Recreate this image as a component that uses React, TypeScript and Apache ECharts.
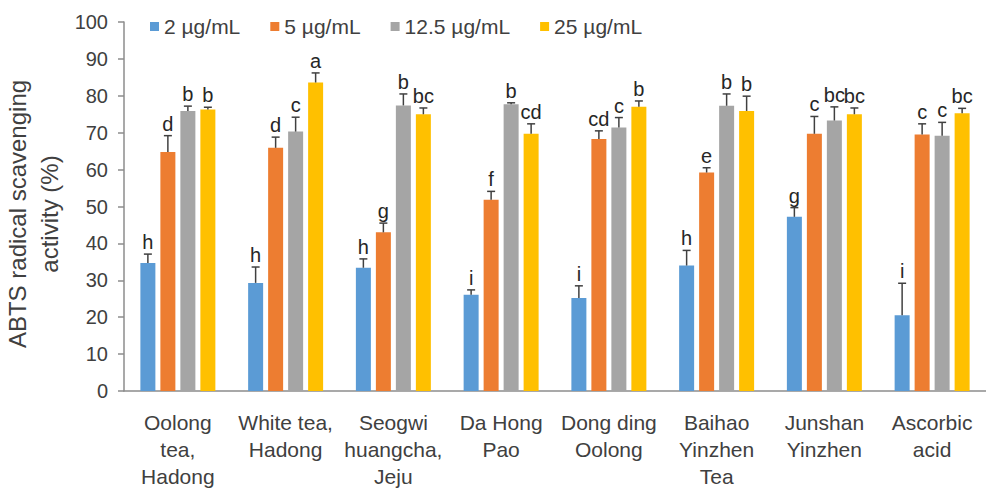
import React, { useEffect, useRef } from "react";
import * as echarts from "echarts";

const categories = [
  "Oolong\ntea,\nHadong",
  "White tea,\nHadong",
  "Seogwi\nhuangcha,\nJeju",
  "Da Hong\nPao",
  "Dong ding\nOolong",
  "Baihao\nYinzhen\nTea",
  "Junshan\nYinzhen",
  "Ascorbic\nacid",
];
const seriesNames = ["2 µg/mL", "5 µg/mL", "12.5 µg/mL", "25 µg/mL"];
const colors = ["#5B9BD5", "#ED7D31", "#A5A5A5", "#FFC000"];

const v2 = [34.7, 29.3, 33.4, 26.1, 25.2, 34.0, 47.2, 20.5];
const v5 = [64.8, 65.9, 43.0, 51.8, 68.3, 59.2, 69.7, 69.5];
const v12 = [75.9, 70.3, 77.4, 77.7, 71.4, 77.3, 73.3, 69.2];
const v25 = [76.3, 83.6, 75.0, 69.7, 77.0, 75.9, 75.0, 75.3];

const e2 = [2.4, 4.3, 2.4, 1.3, 3.3, 4.1, 2.5, 8.7];
const e5 = [4.4, 2.9, 2.5, 2.3, 2.2, 1.3, 4.7, 2.9];
const e12 = [1.3, 3.9, 3.1, 0.4, 2.7, 3.2, 3.7, 3.6];
const e25 = [0.6, 2.6, 1.7, 2.7, 1.6, 4.0, 1.7, 1.3];

const l2 = ["h", "h", "h", "i", "i", "h", "g", "i"];
const l5 = ["d", "d", "g", "f", "cd", "e", "c", "c"];
const l12 = ["b", "c", "b", "b", "c", "b", "bc", "c"];
const l25 = ["b", "a", "bc", "cd", "b", "b", "bc", "bc"];

const yTicks = { min: 0, max: 100, interval: 10 };

const values = [v2, v5, v12, v25];
const errors = [e2, e5, e12, e25];
const letters = [l2, l5, l12, l25];

const FONT = "'Liberation Sans', Arial, sans-serif";
const BAR_W = 15;
const BAR_STEP = 20;

export default function App() {
  const ref = useRef<HTMLDivElement>(null);
  useEffect(() => {
    if (!ref.current) return;
    const chart = echarts.init(ref.current, null, { renderer: "svg" });

    const barSeries = values.map((vals, i) => ({
      name: seriesNames[i],
      type: "bar",
      data: vals,
      barWidth: BAR_W,
      barGap: "33.3%",
      itemStyle: { color: colors[i] },
      z: 2,
    }));

    const errSeries = values.map((vals, i) => ({
      name: seriesNames[i] + " err",
      type: "custom",
      data: vals.map((v, k) => [k, v, errors[i][k]]),
      encode: { x: 0, y: 1 },
      z: 3,
      silent: true,
      renderItem: (params: any, api: any) => {
        const k = api.value(0);
        const v = api.value(1);
        const e = api.value(2);
        const txt = letters[i][params.dataIndex];
        const base = api.coord([k, v]);
        const top = api.coord([k, v + e]);
        const x = base[0] + (i - 1.5) * BAR_STEP;
        const capHalf = 4;
        return {
          type: "group",
          children: [
            {
              type: "line",
              shape: { x1: x, y1: base[1], x2: x, y2: top[1] },
              style: { stroke: "#404040", lineWidth: 1.5 },
            },
            {
              type: "line",
              shape: { x1: x - capHalf, y1: top[1], x2: x + capHalf, y2: top[1] },
              style: { stroke: "#404040", lineWidth: 1.5 },
            },
            {
              type: "text",
              x: x,
              y: top[1] - 2,
              style: {
                text: txt,
                fill: "#262626",
                font: `20px ${FONT}`,
                textAlign: "center",
                textVerticalAlign: "bottom",
              },
            },
          ],
        };
      },
    }));

    chart.setOption({
      animation: false,
      backgroundColor: "#ffffff",
      textStyle: { fontFamily: FONT },
      legend: {
        data: seriesNames,
        left: 145,
        top: 11,
        icon: "rect",
        itemWidth: 9,
        itemHeight: 9,
        itemGap: 30,
        textStyle: {
          fontSize: 21,
          color: "#404040",
          fontFamily: FONT,
        },
      },
      grid: { left: 124, right: 0, top: 22, bottom: 108, containLabel: false },
      xAxis: {
        type: "category",
        data: categories,
        axisLine: { lineStyle: { color: "#8c8c8c", width: 1.5 } },
        axisTick: { show: false },
        axisLabel: {
          interval: 0,
          fontSize: 21,
          lineHeight: 27,
          color: "#404040",
          margin: 18,
          fontFamily: FONT,
        },
      },
      yAxis: {
        type: "value",
        min: yTicks.min,
        max: yTicks.max,
        interval: yTicks.interval,
        splitLine: { show: false },
        axisLine: { show: true, lineStyle: { color: "#8c8c8c", width: 1.5 } },
        axisTick: { show: true, length: 6, lineStyle: { color: "#8c8c8c", width: 1.5 } },
        axisLabel: { fontSize: 20, color: "#404040", margin: 16, fontFamily: FONT },
      },
      graphic: [
        {
          type: "text",
          x: 33,
          y: 214,
          rotation: Math.PI / 2,
          style: {
            text: "ABTS radical scavenging\nactivity (%)",
            font: `24px ${FONT}`,
            lineHeight: 32,
            fill: "#404040",
            textAlign: "center",
            textVerticalAlign: "middle",
          },
        },
      ],
      series: [...barSeries, ...errSeries],
    });
    return () => chart.dispose();
  }, []);
  return (
    <div
      ref={ref}
      style={{ position: "absolute", left: 0, top: 0, width: 986, height: 499 }}
    />
  );
}
